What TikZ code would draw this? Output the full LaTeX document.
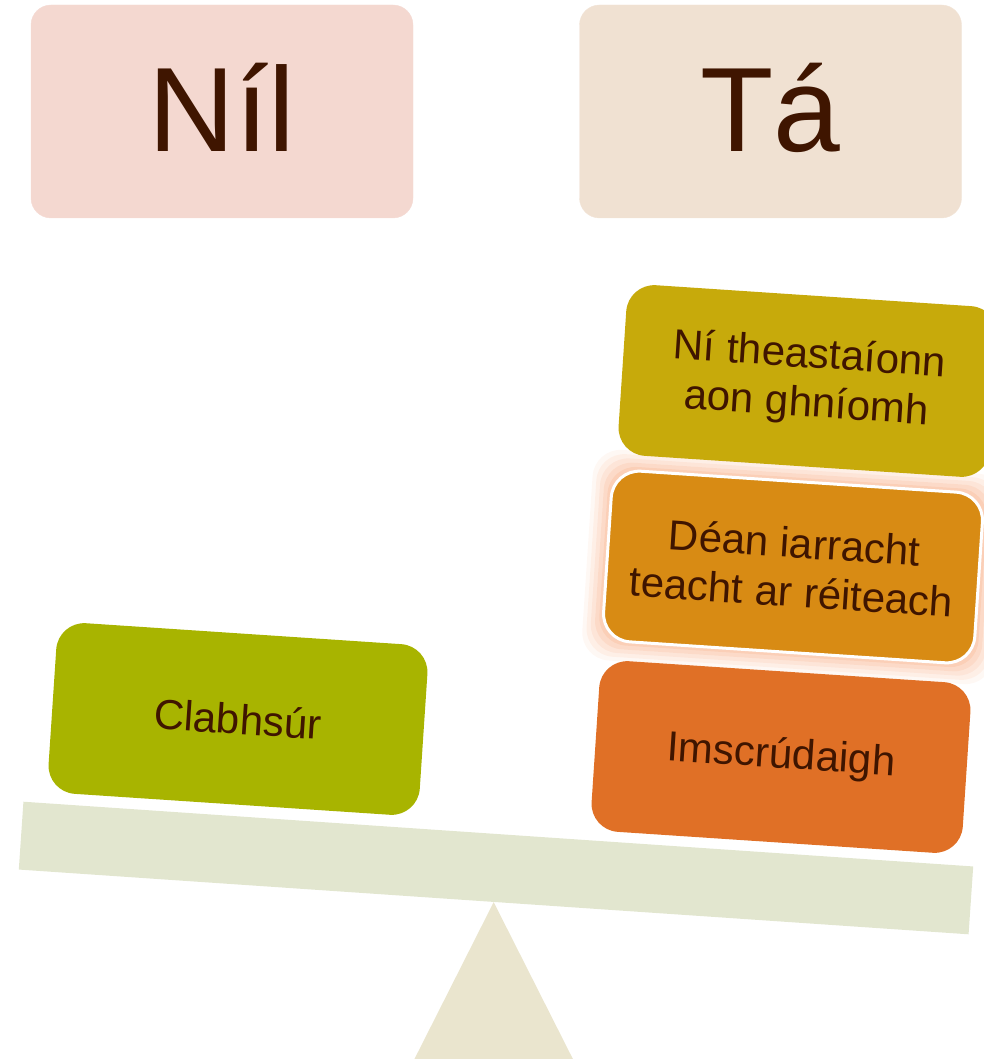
\documentclass[tikz,border=0pt]{standalone}
\usepackage{fontspec}
\setmainfont{Liberation Sans}
\usepackage{xcolor}
\usepackage{tikz}
\usetikzlibrary{positioning}
\definecolor{textcolor}{HTML}{3F1500}
\definecolor{nilcolor}{HTML}{F4D8D0}
\definecolor{tacolor}{HTML}{F0E1D2}
\definecolor{clabcolor}{HTML}{A8B400}
\definecolor{imscolor}{HTML}{E07026}
\definecolor{deancolor}{HTML}{D88B14}
\definecolor{nicolor}{HTML}{C7AA0B}
\definecolor{glowcolor}{HTML}{F7A070}
\definecolor{beamcolor}{HTML}{E2E6CF}
\definecolor{fulcolor}{HTML}{EAE5CE}

\begin{document}
\begin{tikzpicture}[
    x=1pt, y=-1pt,
    head/.style={rounded corners=20pt, minimum width=382pt, minimum height=213pt,
                 text=textcolor, font=\fontsize{120}{120}\selectfont},
    box/.style={rounded corners=28pt, minimum width=372pt, minimum height=171pt,
                rotate=-3.8, text=textcolor, align=center,
                font=\fontsize{42}{49}\selectfont}
]
    \clip (0,0) rectangle (984,1059);
    \useasboundingbox (0,0) rectangle (984,1059);

    % headings
    \node[head, fill=nilcolor, draw=nilcolor!90!white] (nil) at (222,111.5)
        {\raisebox{8pt}{Níl}};
    \node[head, fill=tacolor, draw=tacolor!90!white] (ta) at (770.5,111.5)
        {\raisebox{8pt}{Tá}};

    % balance
    \node[fill=beamcolor, rotate=-3.9, minimum width=952pt, minimum height=68pt,
          inner sep=0pt] (beam) at (496,868) {};
    \fill[fulcolor] (beam.south) -- ++(-101,200) -- ++(202,0) -- cycle;

    % left side
    \node[box, fill=clabcolor] (clabhsur) at (238,719) {Clabhsúr};

    % right side stack
    \node[box, fill=imscolor] (imscrud) at (781,757) {Imscrúdaigh};
    \foreach \g/\op in {20/0.08,16/0.10,12/0.12,8/0.15,4/0.2}
        \node[box, fill=glowcolor, opacity=\op, minimum width={372+2*\g},
              minimum height={171+2*\g}] at (793,567) {};
    \node[box, fill=deancolor, draw=white, line width=3pt] (dean) at (793,567)
        {Déan iarracht\\teacht ar réiteach};
    \node[box, fill=nicolor] (nitheast) at (808,381)
        {Ní theastaíonn\\aon ghníomh};
\end{tikzpicture}
\end{document}
